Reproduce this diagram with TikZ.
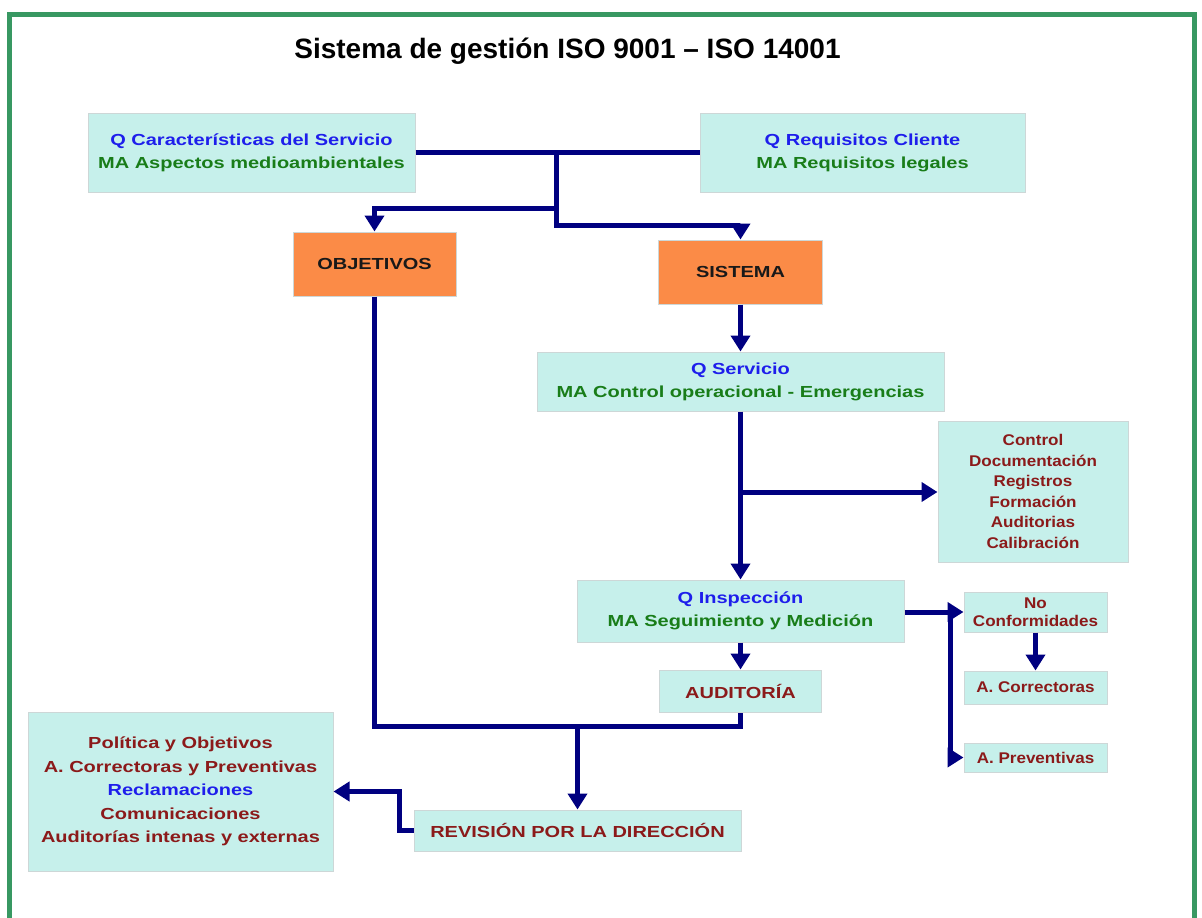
\documentclass[tikz,border=0pt]{standalone}
\usepackage{fontspec}
\setmainfont{Liberation Sans}
\newfontfamily\mainbox[FakeStretch=1.25]{Liberation Sans}
\newfontfamily\smallbox[FakeStretch=1.1]{Liberation Sans}
\usetikzlibrary{arrows.meta}
\definecolor{frame}{RGB}{56,152,98}
\definecolor{boxfill}{RGB}{198,240,235}
\definecolor{boxline}{RGB}{205,215,215}
\definecolor{orangefill}{RGB}{251,139,71}
\definecolor{navy}{RGB}{0,0,128}
\definecolor{qblue}{RGB}{30,30,235}
\definecolor{magreen}{RGB}{25,125,25}
\definecolor{dred}{RGB}{139,26,26}
\tikzset{
  box/.style={draw=boxline, line width=1pt, fill=boxfill, inner sep=0pt, align=center,
    font=\mainbox\bfseries\fontsize{16}{23}\selectfont},
  sbox/.style={box, font=\smallbox\bfseries\fontsize{15.5}{20.5}\selectfont, text=dred},
  obox/.style={draw=boxline, line width=1pt, fill=orangefill, inner sep=0pt, align=center,
    font=\mainbox\bfseries\fontsize{16}{23}\selectfont, text=black!90},
  conn/.style={draw=navy, line width=5pt, line join=miter},
  arr/.style={-{Triangle[width=19pt,length=16pt]}},
}
\begin{document}
\begin{tikzpicture}[x=1pt,y=-1pt]
\useasboundingbox (0,0) rectangle (1202,918);
\fill[white] (0,0) rectangle (1202,918);
% frame
\draw[frame, line width=5pt, line join=miter] (9.5,918) -- (9.5,14) -- (1194.5,14) -- (1194.5,918);
% title
\node[anchor=base, font=\bfseries\fontsize{28}{32}\selectfont] (title) at (567.5,58.5) {Sistema de gestión ISO 9001 – ISO 14001};
% boxes
\node[box, minimum width=327pt, minimum height=79pt] (A) at (251.5,152.5)
  {\textcolor{qblue}{Q Características del Servicio}\\\textcolor{magreen}{MA Aspectos medioambientales}};
\node[box, minimum width=325pt, minimum height=79pt] (B) at (862.5,152.5)
  {\textcolor{qblue}{Q Requisitos Cliente}\\\textcolor{magreen}{MA Requisitos legales}};
\node[obox, minimum width=163pt, minimum height=64pt] (OBJ) at (374.5,264) {OBJETIVOS};
\node[obox, minimum width=164pt, minimum height=64pt] (SIS) at (740.5,272) {SISTEMA};
\node[box, minimum width=407pt, minimum height=59pt] (QS) at (740.5,381.5)
  {\textcolor{qblue}{Q Servicio}\\\textcolor{magreen}{MA Control operacional - Emergencias}};
\node[sbox, minimum width=190pt, minimum height=141pt] (CTRL) at (1033,491.5)
  {Control\\Documentación\\Registros\\Formación\\Auditorias\\Calibración};
\node[box, minimum width=327pt, minimum height=62pt] (QI) at (740.5,611)
  {\textcolor{qblue}{Q Inspección}\\\textcolor{magreen}{MA Seguimiento y Medición}};
\node[box, minimum width=162pt, minimum height=42pt, text=dred] (AUD) at (740.5,691) {AUDITORÍA};
\node[sbox, minimum width=143pt, minimum height=40pt, font=\smallbox\bfseries\fontsize{15.5}{18}\selectfont] (NC) at (1035.5,612) {No\\Conformidades};
\node[sbox, minimum width=143pt, minimum height=33pt] (AC) at (1035.5,687.5) {A. Correctoras};
\node[sbox, minimum width=143pt, minimum height=29pt] (AP) at (1035.5,757.5) {A. Preventivas};
\node[box, minimum width=327pt, minimum height=41pt, text=dred] (REV) at (577.5,830.5) {REVISIÓN POR LA DIRECCIÓN};
\node[box, minimum width=305pt, minimum height=159pt, text=dred, font=\mainbox\bfseries\fontsize{16}{23.5}\selectfont] (LEFT) at (180.5,791.5)
  {Política y Objetivos\\A. Correctoras y Preventivas\\\textcolor{qblue}{Reclamaciones}\\Comunicaciones\\Auditorías intenas y externas};
% junction points
\coordinate (j1) at (556,152.5);
\coordinate (j2) at (556,208);
\coordinate (j3) at (556,225);
\coordinate (j4) at (740.5,492);
\coordinate (j5) at (950,612);
\coordinate (j6) at (577.5,726);
% connectors
\draw[conn] (A.east) -- (B.west);
\draw[conn, arr] (j1) -- (j3) -| (SIS.north);
\draw[conn, arr] (j2) -| (OBJ.north);
\draw[conn, arr] (SIS.south) -- (QS.north);
\draw[conn, arr] (QS.south) -- (QI.north);
\draw[conn, arr] (j4) -- (j4 -| CTRL.west);
\draw[conn, arr] (QI.south) -- (AUD.north);
\draw[conn, arr] (QI.east |- NC.west) -- (NC.west);
\draw[conn, arr] (j5) |- (AP.west);
\draw[conn, arr] (NC.south) -- (AC.north);
\draw[conn] (OBJ.south) |- (j6) -| (AUD.south);
\draw[conn, arr] (j6) -- (REV.north);
\draw[conn, arr] (REV.west) -- ++(-14,0) |- (LEFT.east);
\end{tikzpicture}
\end{document}
